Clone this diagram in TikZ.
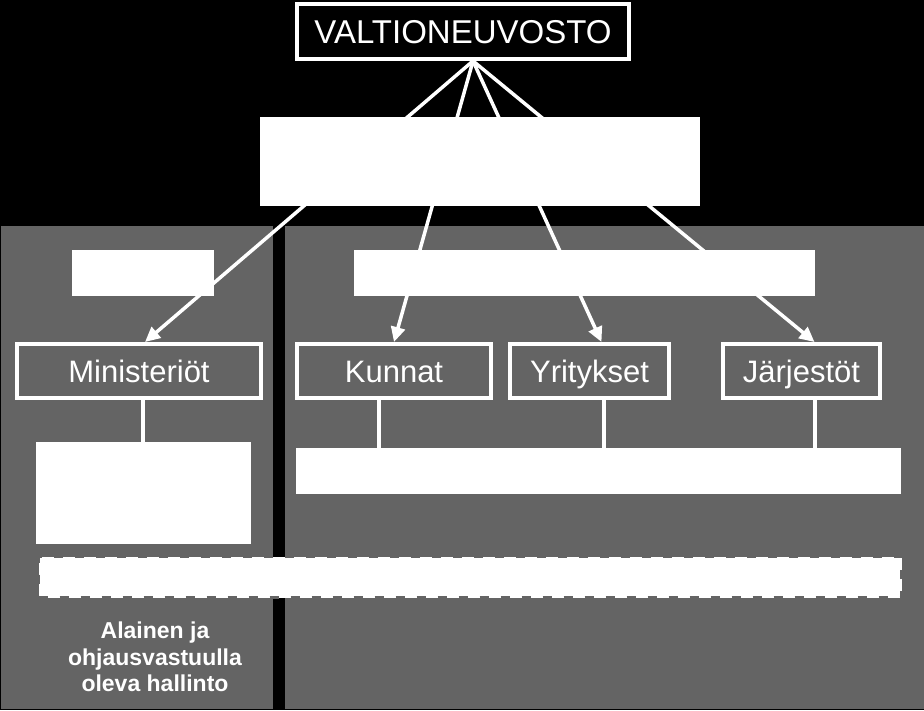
\documentclass[tikz,border=0pt]{standalone}
\usepackage{fontspec}
\setmainfont{Liberation Sans}
\usetikzlibrary{arrows.meta, calc}

\definecolor{panelgray}{RGB}{100,100,100}

\tikzset{
    orgbox/.style={draw=white, line width=4pt, text=white, minimum height=54pt,
        inner sep=0pt, text height=22pt, text depth=0pt,
        font=\fontsize{31}{37}\selectfont},
    blank/.style={fill=white, inner sep=0pt},
    link/.style={draw=white, line width=3.5pt, -{Triangle[length=15pt,width=14pt]}},
    stem/.style={draw=white, line width=4pt},
}

\begin{document}
\begin{tikzpicture}[x=1pt, y=-1pt]
    % Background and the two gray panels
    \fill[black] (0,0) rectangle (924,710);
    \useasboundingbox (0,0) rectangle (924,710);
    \fill[panelgray] (1,226) rectangle (273,709);
    \fill[panelgray] (285,226) rectangle (924,709);

    % Top level
    \node[orgbox, minimum width=332pt, minimum height=55pt, text height=23.5pt,
          font=\fontsize{33}{40}\selectfont] (vn) at (463,31.5) {VALTIONEUVOSTO};
    \coordinate (apex) at ([xshift=10pt]vn.south);

    % Second row boxes
    \node[orgbox, minimum width=244pt] (min) at (139,371) {Ministeriöt};
    \node[orgbox, minimum width=194pt] (kun) at (394,371) {Kunnat};
    \node[orgbox, minimum width=159pt] (yri) at (589.5,371) {Yritykset};
    \node[orgbox, minimum width=157pt] (jar) at (801.5,371) {Järjestöt};

    % Arrows from the top
    \draw[link] (apex) -- ([xshift=6pt]min.north);
    \draw[link] (apex) -- (kun.north);
    \draw[link] (apex) -- ([xshift=12pt]yri.north);
    \draw[link] (apex) -- ([xshift=13pt]jar.north);

    % White label areas (drawn over the arrows)
    \node[blank, minimum width=440pt, minimum height=89pt] (mid) at (480,161.5) {};
    \node[blank, minimum width=142pt, minimum height=46pt] (lefttag) at (143,273) {};
    \node[blank, minimum width=461pt, minimum height=46pt] (righttag) at (584.5,273) {};
    \node[blank, minimum width=215pt, minimum height=102pt] (minsub) at (143.5,493) {};
    \node[blank, minimum width=605pt, minimum height=46pt] (othsub) at (598.5,471) {};
    \node[blank, draw=panelgray, line width=3pt, dash pattern=on 9pt off 12pt,
          minimum width=863pt, minimum height=41pt] (dashbar) at (470,577) {};

    % Stems down to the label areas
    \draw[stem] ([xshift=4pt]min.south) -- ([xshift=4pt]min.south |- minsub.north);
    \draw[stem] ([xshift=-15pt]kun.south) -- ([xshift=-15pt]kun.south |- othsub.north);
    \draw[stem] ([xshift=14.5pt]yri.south) -- ([xshift=14.5pt]yri.south |- othsub.north);
    \draw[stem] ([xshift=13.5pt]jar.south) -- ([xshift=13.5pt]jar.south |- othsub.north);

    % Bottom note
    \node[text=white, font=\bfseries\fontsize{23}{26.5}\selectfont, align=center]
        (note) at (155,657) {Alainen ja\\ohjausvastuulla\\oleva hallinto};
\end{tikzpicture}
\end{document}
